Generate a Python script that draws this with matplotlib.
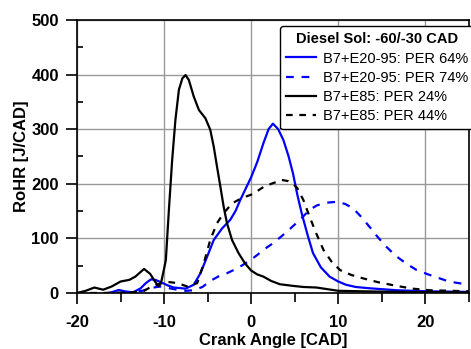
import matplotlib; matplotlib.use("Agg")
import matplotlib.pyplot as plt
from matplotlib.ticker import MultipleLocator

plt.rcParams['font.family'] = ['Liberation Sans', 'DejaVu Sans']
plt.rcParams['axes.unicode_minus'] = False

# B7+E85, PER 24% (black solid)
x_e85_24 = [-20, -19, -18, -17, -16, -15, -14, -13.3, -12.3, -11.6, -11, -10.6, -10.3, -9.8, -9.45, -9.07,
            -8.7, -8.3, -7.9, -7.54, -7.16, -6.6, -6.0, -5.26, -4.7, -4.3, -3.92, -3.54, -3.16, -2.78, -2.2, -1.45,
            -0.7, 0, 0.7, 1.4, 2.3, 3.3, 4.8, 6, 7.5, 10, 13, 17, 25]
y_e85_24 = [0, 4, 10, 6, 12, 21, 24, 30, 44, 35, 20, 12, 22, 60, 152, 244,
            317, 372, 393, 399, 390, 360, 335, 320, 299, 268, 231, 195, 158, 128, 97, 73,
            54, 41, 34, 30, 22, 16, 13, 11, 10, 4, 3, 2, 1]

# B7+E85, PER 44% (black dashed)
x_e85_44 = [-20, -17, -14, -13, -12.3, -11.3, -10.2, -9.5, -8.9, -8.1, -7.35, -6.2, -5.45, -4.7, -3.92,
            -3.16, -2.2, -1.4, -0.7, 0, 0.65, 1.5, 2.5, 3.5, 4.2, 4.8, 5.3, 6.0, 6.7, 7.5, 8.3,
            9.2, 10.2, 11.5, 12.8, 14.5, 16.7, 18.5, 20.5, 23, 25]
y_e85_44 = [0, 0, 1, 2, 4, 13, 18, 20, 19, 16, 12, 18, 54, 97, 128,
            146, 164, 171, 176, 180, 186, 195, 201, 207, 205, 200, 192, 170, 140, 108, 79,
            58, 42, 33, 27, 20, 13, 8, 5, 4, 3]

# B7+E20-95, PER 64% (blue solid)
x_e20_64 = [-16.3, -15.7, -15.2, -14.5, -13.6, -12.7, -12.1, -11.5, -11, -10.4, -9.6, -8.9, -7.54, -6.6,
            -5.83, -5.07, -4.3, -3.35, -2.4, -1.8, -1.26, -0.6, 0, 0.7, 1.4, 2, 2.5, 3.1,
            3.7, 4.3, 4.8, 5.3, 5.8, 6.5, 7.1, 8, 9, 10, 10.9, 12, 13.6, 15, 16.7, 20.5, 25]
y_e20_64 = [0, 3, 5.5, 3, 1, 8.5, 18, 25, 24, 20, 14, 10, 8, 15,
            36, 66, 97, 118, 134, 150, 170, 192, 212, 240, 274, 300, 310, 300,
            280, 250, 219, 180, 146, 105, 73, 47, 30, 21, 15, 11, 8.6, 7, 5, 3, 2]

# B7+E20-95, PER 74% (blue dashed)
x_e20_74 = [-16.5, -15, -13.5, -12.5, -11.5, -10.5, -9.5, -8.5, -7.5, -6.6, -5.6, -4.7, -3.8, -2.8,
            -1.5, -0.1, 0.65, 1.5, 2.5, 3.5, 4.5, 5.6, 6.7, 7.5, 8.5, 9.8, 10.8, 11.7, 12.6, 13.6,
            14.5, 15.5, 16.6, 17.8, 19, 20.5, 22.7, 25]
y_e20_74 = [0, 1, 2, 4, 9, 12, 9, 6, 4, 5, 11, 22, 30, 36,
            46, 60, 69, 80, 91, 104, 118, 134, 152, 160, 165, 167, 163, 155, 140, 121,
            103, 85, 68, 54, 42, 33, 21, 15]

labels = ["B7+E20-95: PER 64%", "B7+E20-95: PER 74%", "B7+E85: PER 24%", "B7+E85: PER 44%"]

fig = plt.figure(figsize=(4.71, 3.49), dpi=100)
ax = fig.add_axes([0.1635, 0.1605, 0.832, 0.7825])

BLUE = "#0000ff"
ax.plot(x_e20_64, y_e20_64, color=BLUE, lw=1.6, label=labels[0])
ax.plot(x_e20_74, y_e20_74, color=BLUE, lw=1.6, ls=(0, (3.5, 3.5)), label=labels[1])
ax.plot(x_e85_24, y_e85_24, color="black", lw=1.6, label=labels[2])
ax.plot(x_e85_44, y_e85_44, color="black", lw=1.6, ls=(0, (3, 3)), label=labels[3])

ax.set_xlim(-20, 25)
ax.set_ylim(0, 500)
ax.xaxis.set_major_locator(MultipleLocator(10))
ax.xaxis.set_minor_locator(MultipleLocator(5))
ax.yaxis.set_major_locator(MultipleLocator(100))
ax.yaxis.set_minor_locator(MultipleLocator(50))
ax.grid(True, which="major", color="#999999", lw=1.0)
ax.set_axisbelow(True)
ax.tick_params(axis="x", which="major", direction="out", length=8, width=1.2, pad=8)
ax.tick_params(axis="x", which="minor", direction="out", length=6.5, width=1.2)
ax.tick_params(axis="y", which="major", direction="out", length=8, width=1.2, pad=5)
ax.tick_params(axis="y", which="minor", direction="in", length=4, width=1.2)
for lab in ax.get_xticklabels() + ax.get_yticklabels():
    lab.set_fontweight("bold")
    lab.set_fontsize(12)
for s in ax.spines.values():
    s.set_linewidth(1.2)

ax.set_xlabel("Crank Angle [CAD]", fontsize=12, fontweight="bold", labelpad=2)
ax.set_ylabel("RoHR [J/CAD]", fontsize=12, fontweight="bold", labelpad=2)

leg = ax.legend(loc="upper right", bbox_to_anchor=(1.015, 0.978), fontsize=10.5,
                title="Diesel Sol: -60/-30 CAD", title_fontproperties={"weight": "bold", "size": 10.5},
                frameon=True, fancybox=True, framealpha=1, edgecolor="black",
                handlelength=2.0, handletextpad=0.5, borderpad=0.45, labelspacing=0.35,
                borderaxespad=0)
leg.get_frame().set_linewidth(1.0)

fig.savefig("out.png", dpi=100)
